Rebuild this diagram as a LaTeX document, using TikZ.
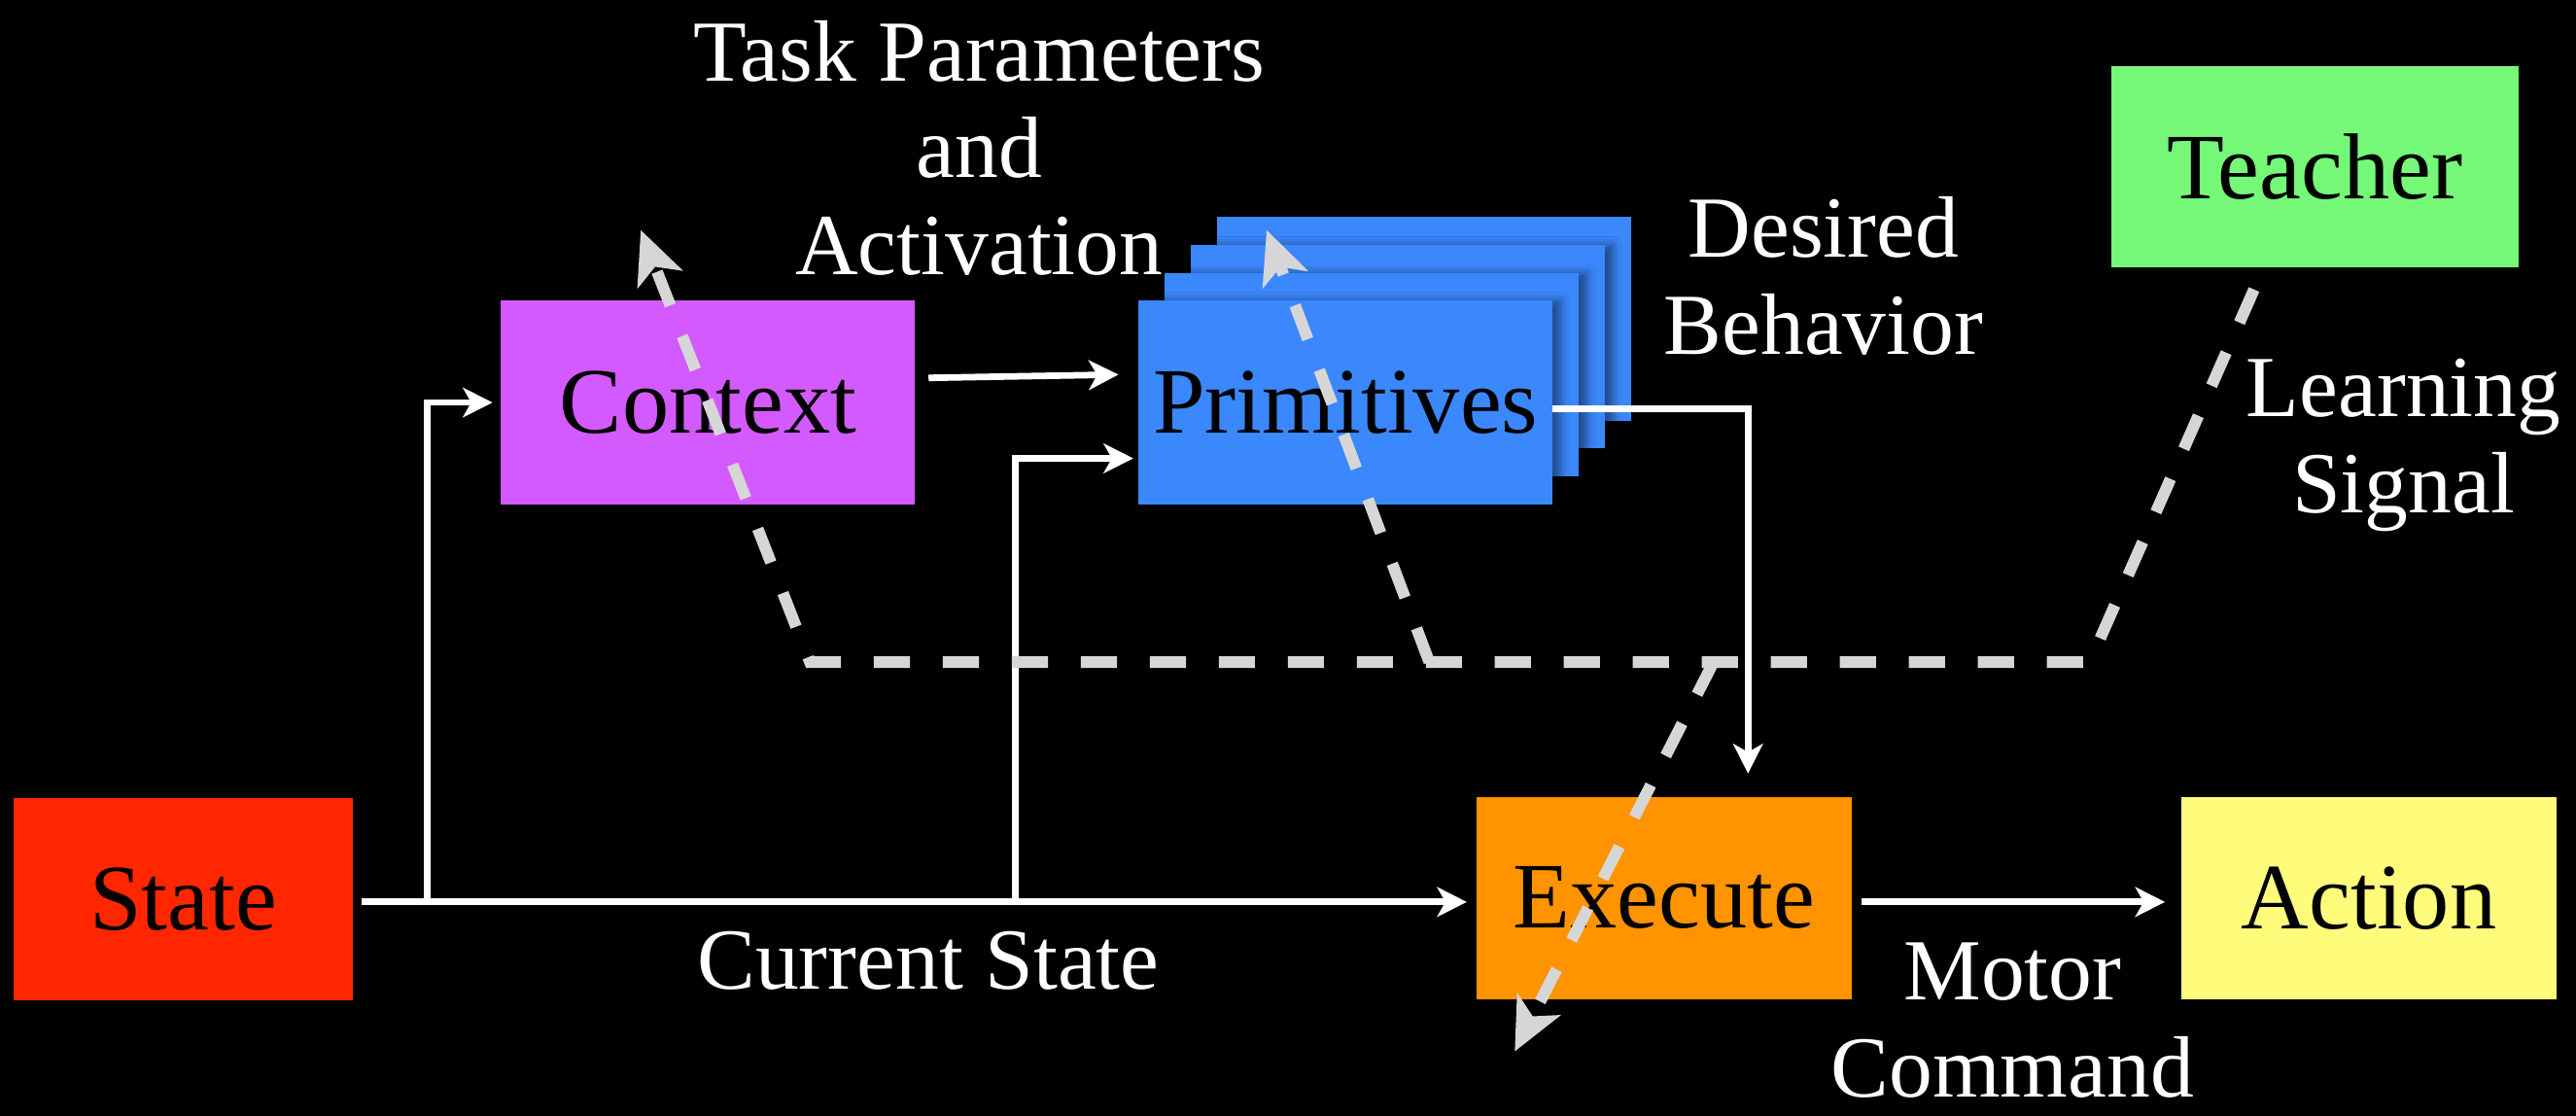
\documentclass[tikz,border=0pt]{standalone}
\usepackage{fontspec}
\setmainfont{Liberation Serif}
\usetikzlibrary{arrows.meta,calc,shadows.blur}
\definecolor{stateRed}{HTML}{FF2600}
\definecolor{ctxPurple}{HTML}{D35AFF}
\definecolor{primBlue}{HTML}{3B88FD}
\definecolor{exeOrange}{HTML}{FF9300}
\definecolor{actYellow}{HTML}{FFFC7C}
\definecolor{teachGreen}{HTML}{75F878}
\definecolor{dashGray}{HTML}{D6D6D6}
\begin{document}
\begin{tikzpicture}[x=1pt,y=-1pt,
  box/.style={rectangle, inner sep=0pt, text=black, font=\fontsize{57}{66}\selectfont},
  primbox/.style={box, fill=primBlue, minimum width=252pt, minimum height=124pt,
    blur shadow={shadow xshift=5pt, shadow yshift=0pt, shadow blur radius=5pt, shadow opacity=45}},
  lbl/.style={text=white, inner sep=0pt, align=center, font=\fontsize{53}{59}\selectfont},
  arr/.style={draw=white, line width=4pt, -{Stealth[length=18pt,width=18pt,inset=5pt]}},
  dsh/.style={draw=dashGray, line width=7pt, dash pattern=on 22pt off 20pt,
    -{Stealth[length=32pt,width=29pt,inset=8pt]}}]
\fill[black] (0,0) rectangle (1568,679);
\useasboundingbox (0,0) rectangle (1568,679);

% boxes
\node[box, fill=stateRed, minimum width=207pt, minimum height=123pt] (state) at (111.5,547.5) {State};
\node[box, fill=ctxPurple, minimum width=252pt, minimum height=124pt] (context) at (431,245) {Context};
\node[primbox] (prim3) at (867,194) {};
\node[primbox] (prim2) at (851,211) {};
\node[primbox] (prim1) at (835,228) {};
\node[primbox] (prim) at (819,245) {Primitives};
\node[box, fill=exeOrange, minimum width=228pt, minimum height=123pt] (execute) at (1013,546.5) {Execute};
\node[box, fill=actYellow, minimum width=228pt, minimum height=123pt] (action) at (1442,546.5) {Action};
\node[box, fill=teachGreen, minimum width=248pt, minimum height=123pt] (teacher) at (1409,101.5) {Teacher};

% labels
\node[lbl] (taskparams) at (596,90) {Task Parameters\\and\\Activation};
\node[lbl] (desired) at (1110,168) {Desired\\Behavior};
\node[lbl] (learning) at (1463,271) {Learning\\Signal};
\node[lbl] (curstate) at (565,585) {Current State};
\node[lbl] (motor) at (1225,621) {Motor\\Command};

% white connectors
\coordinate (b1) at (260,549);
\coordinate (b2) at (618,549);
\draw[arr, shorten <=5pt, shorten >=6pt] ($(state.east)+(0,1.5)$) -- ($(execute.west)+(0,2.5)$);
\draw[arr, shorten >=5pt] (b1) |- (context.west);
\draw[arr, shorten >=3pt] (b2) |- ($(prim.west)+(0,34)$);
\draw[arr] ($(context.east)+(8,-15)$) -- ($(prim.west)+(-12,-17)$);
\draw[arr] ($(prim.east)+(0,4)$) -| ($(execute.north)+(51,-14)$);
\draw[arr, shorten <=6pt, shorten >=10pt] ($(execute.east)+(0,2.5)$) -- ($(action.west)+(0,2.5)$);

% dashed learning signal
\coordinate (j1) at (1272,403);
\coordinate (j2) at (493,403);
\coordinate (j3) at (870,403);
\coordinate (j4) at (1043,403);
\coordinate (ctxtgt) at (390,140);
\coordinate (primtgt) at (771,140);
\coordinate (exetgt) at (922,640);
\draw[dsh] ($(teacher.south)+(-37,13)$) -- (j1) -- (j2) -- (ctxtgt);
\draw[dsh] (j3) -- (primtgt);
\draw[dsh] (j4) -- (exetgt);
\end{tikzpicture}
\end{document}
